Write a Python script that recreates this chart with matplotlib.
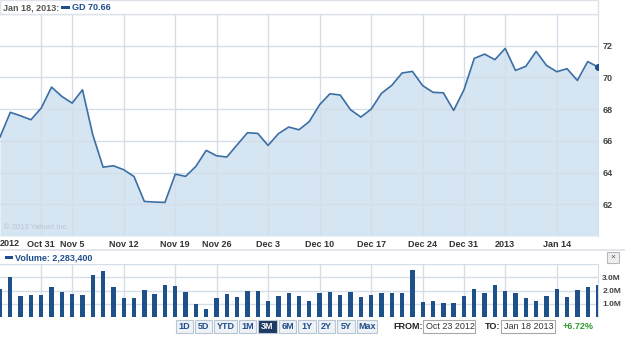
import matplotlib
matplotlib.use("Agg")
import matplotlib.pyplot as plt
from matplotlib.patches import Rectangle

# GD daily close, Oct 23 2012 - Jan 18 2013 (trading days)
price = [66.24, 67.80, 67.58, 67.33, 68.07, 69.39, 68.80, 68.38, 69.22, 66.38,
         64.34, 64.43, 64.18, 63.75, 62.18, 62.14, 62.12, 63.90, 63.76, 64.39,
         65.40, 65.06, 64.98, 65.75, 66.51, 66.47, 65.71, 66.45, 66.87, 66.70,
         67.22, 68.28, 68.97, 68.89, 67.96, 67.50, 68.00, 69.00, 69.50, 70.28,
         70.38, 69.48, 69.06, 69.03, 67.92, 69.22, 71.20, 71.47, 71.12, 71.83,
         70.44, 70.70, 71.64, 70.76, 70.36, 70.55, 69.81, 71.00, 70.66]
# volume in millions
volume = [2.10, 3.03, 1.62, 1.67, 1.67, 2.27, 1.92, 1.74, 1.67, 3.16,
          3.48, 2.27, 1.44, 1.44, 2.02, 1.74, 2.40, 2.35, 1.89, 1.01,
          0.61, 1.44, 1.74, 1.49, 2.00, 2.00, 1.21, 1.57, 1.82, 1.57,
          1.19, 1.79, 1.89, 1.67, 1.89, 1.49, 1.67, 1.79, 1.79, 1.84,
          3.54, 1.14, 1.19, 1.06, 1.06, 1.62, 2.10, 1.79, 2.45, 1.97,
          1.79, 1.44, 1.19, 1.62, 2.10, 1.54, 2.05, 2.27, 2.40]
tick_idx = [4, 7, 12, 17, 21, 26, 31, 36, 41, 45, 49, 54]
tick_lbl = ["Oct 31", "Nov 5", "Nov 12", "Nov 19", "Nov 26", "Dec 3",
            "Dec 10", "Dec 17", "Dec 24", "Dec 31", "2013", "Jan 14"]
price_ticks = [62, 64, 66, 68, 70, 72]
vol_ticks = [1, 2, 3]
vol_lbl = ["1.0M", "2.0M", "3.0M"]
buttons = ["1D", "5D", "YTD", "1M", "3M", "6M", "1Y", "2Y", "5Y", "Max"]

plt.rcParams['font.family'] = ['Liberation Sans', 'DejaVu Sans']

W, H = 625, 337
fig = plt.figure(figsize=(W / 100, H / 100), dpi=100)
fig.patch.set_facecolor("white")

def box(x0, y0, x1, y1):
    # pixel box -> figure fraction rect
    return [x0 / W, 1 - y1 / H, (x1 - x0) / W, (y1 - y0) / H]

grid_c = "#d3dee8"
line_c = "#3b6ea5"
fill_c = "#d5e5f1"
navy = "#1f4e8c"
txt_c = "#333333"
x = list(range(len(price)))

# price panel
ax = fig.add_axes(box(0, 14, 598, 236))
ax.fill_between(x, price, 60, color=fill_c, zorder=1, lw=0)
ax.plot(x, price, color=line_c, lw=1.2, zorder=3)
ax.plot(x[-1], price[-1], "o", color="#1f4e8c", ms=4, zorder=4)
ax.set_xlim(0, 58)
ax.set_ylim(60, 74)
for t in tick_idx:
    ax.axvline(t, color=grid_c, lw=1, zorder=2)
for p in price_ticks + [74]:
    ax.axhline(p, color=grid_c, lw=1, zorder=2)
ax.yaxis.tick_right()
ax.set_yticks(price_ticks)
ax.set_yticklabels([str(p) for p in price_ticks], fontsize=6.5,
                   fontweight="bold", color="#444444")
ax.set_xticks(tick_idx)
ax.set_xticklabels(tick_lbl, fontsize=6.5, fontweight="bold", color=txt_c)
ax.tick_params(length=0, pad=3)
ax.tick_params(axis="y", pad=3)
for s in ["top", "left", "bottom"]:
    ax.spines[s].set_visible(False)
ax.spines["right"].set_color(grid_c)
ax.text(0.0, -0.015, "2012", transform=ax.transAxes, ha="left", va="top",
        fontsize=6.5, fontweight="bold", color=txt_c)
ax.text(0.006, 0.03, "© 2013 Yahoo! Inc.", transform=ax.transAxes,
        fontsize=5.5, color="#b8c6d3")

# volume panel
av = fig.add_axes(box(0, 264, 598, 317))
av.bar(x, volume, width=0.42, color="#1e5089", zorder=3)
av.set_xlim(0, 58)
av.set_ylim(0, 4)
for t in tick_idx:
    av.axvline(t, color=grid_c, lw=1, zorder=1)
for v in vol_ticks + [4]:
    av.axhline(v, color=grid_c, lw=1, zorder=1)
av.yaxis.tick_right()
av.set_yticks(vol_ticks)
av.set_yticklabels(vol_lbl, fontsize=6, fontweight="bold", color="#444444")
av.set_xticks([])
av.tick_params(length=0, pad=3)
for s in ["top", "left", "bottom"]:
    av.spines[s].set_visible(False)
av.spines["right"].set_color(grid_c)

def frect(x0, y0, x1, y1, **kw):
    fig.add_artist(Rectangle((x0 / W, 1 - y1 / H), (x1 - x0) / W,
                             (y1 - y0) / H, transform=fig.transFigure, **kw))

def ftext(xp, yp, s, **kw):
    fig.text(xp / W, 1 - yp / H, s, **kw)

# header box and separator
frect(0, 0, 598, 14, fill=False, ec="#dde3e8", lw=1)
frect(0, 249, 625, 251, color="#e2e6ea", lw=0)
ftext(3, 7.5, "Jan 18, 2013:", fontsize=6.5, fontweight="bold",
      color="#555555", va="center")
frect(61, 6, 70, 9, color=navy, lw=0)
ftext(72, 7.5, "GD 70.66", fontsize=6.5, fontweight="bold", color=navy,
      va="center")
frect(5, 256, 13, 259, color=navy, lw=0)
ftext(15, 257.5, "Volume: 2,283,400", fontsize=6.5, fontweight="bold",
      color=navy, va="center")
frect(607, 252, 619, 263, fc="#eeeeee", ec="#b8b8b8", lw=0.8)
ftext(613, 257.5, "×", fontsize=6, color="#555555", ha="center", va="center")

# range buttons
bx = [176, 195, 214, 239, 258, 279, 298, 318, 337, 357, 379]
for i, b in enumerate(buttons):
    sel = b == "3M"
    frect(bx[i], 320, bx[i + 1] - 2, 333,
          fc="#1d3a63" if sel else "#eef2f6", ec="#b9c6d3", lw=0.8)
    ftext((bx[i] + bx[i + 1] - 2) / 2, 326.5, b, fontsize=6.5,
          fontweight="bold", color="white" if sel else navy,
          ha="center", va="center")

ftext(393, 326.5, "FROM:", fontsize=6.5, fontweight="bold", color="#222222",
      va="center")
frect(423, 320, 475, 333, fc="white", ec="#a8a8a8", lw=0.8)
ftext(426, 326.5, "Oct 23 2012", fontsize=6.5, color="#333333", va="center")
ftext(485, 326.5, "TO:", fontsize=6.5, fontweight="bold", color="#222222",
      va="center")
frect(501, 320, 555, 333, fc="white", ec="#a8a8a8", lw=0.8)
ftext(504, 326.5, "Jan 18 2013", fontsize=6.5, color="#333333", va="center")
ftext(563, 326.5, "+6.72%", fontsize=6.5, fontweight="bold", color="#2e9a2e",
      va="center")

fig.savefig("out.png", dpi=100)
